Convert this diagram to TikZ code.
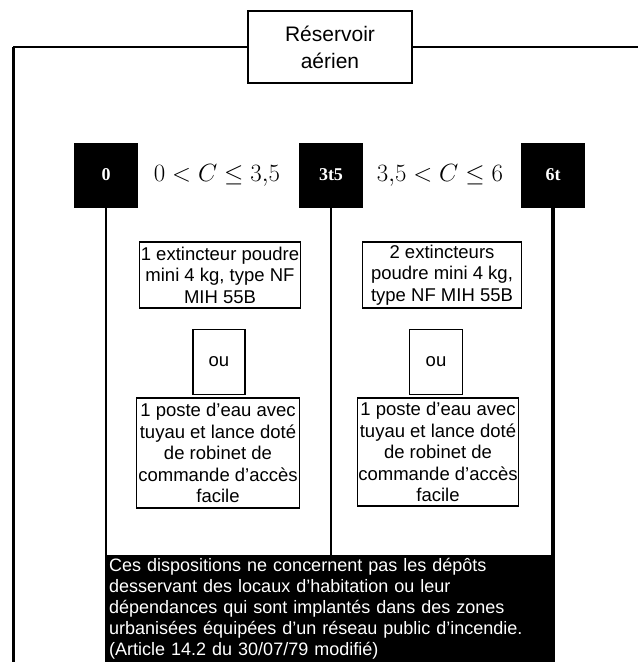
\documentclass[tikz,border=0pt]{standalone}
\usepackage{fontspec}
\setmainfont{Liberation Sans}
\newfontfamily\tagfont{Liberation Serif}
\usetikzlibrary{positioning}

\begin{document}
\begin{tikzpicture}[x=1pt,y=-1pt,
    box/.style={draw,line width=1.6pt,align=center,inner sep=1pt,font=\fontsize{18.5}{21.5}\selectfont},
    tag/.style={fill=black,text=white,minimum width=64pt,minimum height=65pt,inner sep=0pt,font=\tagfont\bfseries\fontsize{18}{20}\selectfont},
    rng/.style={font=\fontsize{25}{28}\selectfont},
    wire/.style={line width=2.4pt}]
  \useasboundingbox (0,0) rectangle (638,662);
  % main line
  \node[box,line width=2.6pt,minimum width=164pt,minimum height=72pt,font=\fontsize{21}{27}\selectfont] (res) at (330,47) {Réservoir\\aérien};
  \coordinate (tl) at (13,47);
  \coordinate (tr) at (638,47);
  \coordinate (bl) at (13,662);
  \draw[wire] (res.west) -- (tl);
  \draw[wire] (res.east) -- (tr);
  \draw[wire,line width=3pt] (tl) -- (bl);
  % capacities
  \node[tag] (b0) at (106,175) {0};
  \node[tag] (b35) at (331,175) {3t5};
  \node[tag] (b6) at (553,175) {6t};
  \node[rng] (r1) at (217,175) {$0<C\leq 3{,}5$};
  \node[rng] (r2) at (440,175) {$3{,}5<C\leq 6$};
  % left column
  \node[box,minimum width=161pt,minimum height=66pt] (ext1) at (220,275) {1 extincteur poudre\\mini 4 kg, type NF\\MIH 55B};
  \node[box,minimum width=52pt,minimum height=65pt] (ou1) at (219,362) {ou};
  \node[box,minimum width=163pt,minimum height=110pt] (eau1) at (218,453) {1 poste d'eau avec\\tuyau et lance doté\\de robinet de\\commande d'accès\\facile};
  % right column
  \node[box,minimum width=159pt,minimum height=66pt] (ext2) at (442,275) {2 extincteurs\\poudre mini 4 kg,\\type NF MIH 55B};
  \node[box,minimum width=53pt,minimum height=65pt] (ou2) at (436,362) {ou};
  \node[box,minimum width=159pt,minimum height=108pt] (eau2) at (438,452) {1 poste d'eau avec\\tuyau et lance doté\\de robinet de\\commande d'accès\\facile};
  % note
  \node[fill=black,text=white,anchor=north west,text width=442pt,minimum height=107pt,inner sep=2pt,align=left,font=\fontsize{18}{20.8}\selectfont] (note) at (107,555) {Ces dispositions ne concernent pas les dépôts\\desservant des locaux d'habitation ou leur\\dépendances qui sont implantés dans des zones\\urbanisées équipées d'un réseau public d'incendie.\\(Article 14.2 du 30/07/79 modifié)};
  \draw[wire,line width=2pt] (b0.south) -- (b0.south |- bl);
  \draw[wire,line width=2.8pt] (b35.south) -- (b35.south |- note.north);
  \draw[wire,line width=3.6pt] (b6.south) -- (b6.south |- bl);
\end{tikzpicture}
\end{document}
